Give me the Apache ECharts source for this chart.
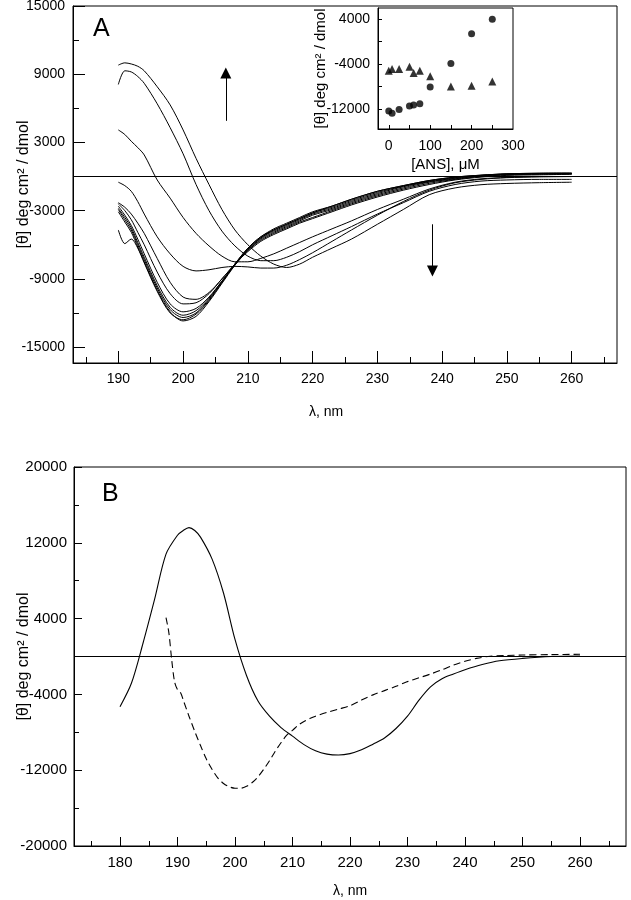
<!DOCTYPE html>
<html>
<head>
<meta charset="utf-8">
<script src="https://cdn.jsdelivr.net/npm/echarts@6.0.0/dist/echarts.min.js"></script>
<style>
  html, body { margin: 0; padding: 0; background: #fff; }
  #chart { width: 631px; height: 900px; }
</style>
</head>
<body>
<div id="chart"></div>
<script>
// panel A: CD spectra at increasing [ANS]
const lamA = [190, 191, 192, 193, 194, 196, 198, 200, 202, 204, 206, 208, 210, 212, 214, 216, 218, 220, 223, 226, 230, 234, 238, 242, 246, 250, 255, 260];
const cdA250 = [9800, 10000, 9900, 9700, 9300, 7900, 6300, 4100, 1600, -700, -2900, -4700, -6000, -7000, -7700, -8000, -7700, -7100, -6300, -5500, -4200, -2900, -1600, -1000, -720, -610, -540, -500];
const cdA200 = [8100, 9300, 9200, 8800, 8200, 6400, 4300, 2000, -700, -3000, -4800, -6100, -7000, -7400, -7400, -7100, -6600, -6000, -5200, -4400, -3300, -2300, -1300, -700, -400, -300, -250, -250];
const cdA150 = [4100, 3700, 3100, 2550, 1900, -300, -1900, -3600, -5000, -6100, -7000, -7500, -7500, -7200, -6800, -6300, -5800, -5300, -4600, -3900, -2900, -2000, -1100, -500, -200, -80, 0, 0];
const cdA100 = [-500, -800, -1300, -2200, -3300, -5300, -6800, -7900, -8300, -8200, -8000, -7900, -7950, -8050, -8050, -7800, -7300, -6700, -5700, -4700, -3400, -2200, -1200, -550, -250, -100, -30, 0];
const cdA75 = [-2300, -2700, -3300, -4100, -5000, -7200, -9300, -10600, -10800, -10200, -9000, -7700, -6600, -5700, -5100, -4600, -4100, -3700, -3100, -2500, -1800, -1200, -700, -300, -50, 100, 150, 200];
const cdA60 = [-2400, -3000, -3800, -4900, -6000, -8400, -10300, -11200, -11100, -10300, -9000, -7700, -6500, -5600, -5000, -4500, -4000, -3600, -3000, -2400, -1700, -1100, -600, -250, 0, 150, 200, 220];
const cdA50 = [-2600, -3400, -4300, -5500, -6800, -9300, -11200, -11900, -11600, -10600, -9200, -7800, -6500, -5500, -4900, -4400, -3900, -3400, -2900, -2300, -1600, -1000, -500, -200, 50, 180, 230, 250];
const cdA25 = [-2800, -3600, -4500, -5800, -7100, -9600, -11500, -12200, -11800, -10700, -9200, -7700, -6400, -5400, -4800, -4300, -3800, -3300, -2800, -2200, -1500, -900, -450, -150, 80, 200, 250, 260];
const cdA10 = [-2900, -3800, -4700, -6000, -7300, -9800, -11700, -12400, -12000, -10800, -9300, -7700, -6300, -5300, -4700, -4200, -3700, -3200, -2700, -2100, -1400, -850, -400, -100, 100, 220, 270, 280];
const cdA5 = [-3100, -4000, -4900, -6200, -7500, -10000, -11900, -12700, -12300, -11000, -9400, -7800, -6400, -5400, -4700, -4200, -3700, -3200, -2600, -2000, -1300, -800, -350, -50, 120, 240, 290, 300];
const cdA0 = [-4700, -5900, -5500, -6300, -7600, -10100, -12000, -12600, -12100, -10900, -9300, -7700, -6300, -5300, -4600, -4100, -3600, -3100, -2600, -2000, -1300, -800, -350, -50, 120, 240, 290, 300];
const curvesA = [cdA250, cdA200, cdA150, cdA100, cdA75, cdA60, cdA50, cdA25, cdA10, cdA5, cdA0];

// inset: [θ] vs [ANS]
const ansConc = [0, 8, 25, 50, 60, 75, 100, 150, 200, 250];
const thetaCircle = [-12400, -12800, -12100, -11500, -11300, -11100, -8100, -3900, 1400, 4000];
const thetaTriangle = [-5200, -4900, -4900, -4500, -5600, -5200, -6200, -8000, -7900, -7100];

// panel B
const lamBSolid = [180, 182, 184, 186, 188, 190, 191, 192, 193, 194, 196, 198, 200, 202, 204, 206, 208, 210, 212, 214, 216, 218, 220, 222, 224, 226, 228, 230, 232, 234, 236, 238, 240, 243, 246, 250, 255, 260];
const cdBSolid = [-5300, -2800, 1400, 6000, 10800, 12800, 13300, 13600, 13300, 12600, 10300, 6700, 1800, -2000, -4700, -6300, -7500, -8400, -9300, -9950, -10300, -10400, -10250, -9850, -9250, -8600, -7600, -6300, -4600, -3200, -2350, -1850, -1400, -850, -450, -200, 0, 50];
const lamBDash = [188, 188.5, 189, 189.5, 190, 190.6, 191, 192, 193, 194, 195, 196, 197, 198, 199, 200, 201, 202, 203, 204, 205, 206, 207, 208, 209, 210, 211, 212, 213, 214, 216, 218, 220, 222, 224, 226, 228, 230, 232, 234, 236, 238, 240, 242, 244, 247, 250, 255, 260];
const cdBDash = [4100, 2500, -400, -2700, -3500, -3900, -4600, -6300, -7900, -9400, -10800, -11900, -12800, -13400, -13750, -13900, -13900, -13700, -13300, -12700, -11900, -11000, -10000, -9100, -8300, -7800, -7250, -6850, -6550, -6300, -5900, -5550, -5200, -4600, -4050, -3600, -3150, -2650, -2250, -1850, -1400, -900, -500, -200, 0, 100, 160, 200, 230];

// tick labels
const lamTicksA = [190, 200, 210, 220, 230, 240, 250, 260];
const lamMinorA = [185, 195, 205, 215, 225, 235, 245, 255, 265];
const yLabelsA = [15000, 9000, 3000, -3000, -9000, -15000];
const yMinorA = [12000, 6000, 0, -6000, -12000];
const ansTicks = [0, 100, 200, 300];
const ansMinor = [0, 50, 100, 150, 200, 250];
const insetLabels = [4000, -4000, -12000];
const insetTicks = [4000, 0, -4000, -8000, -12000];
const lamTicksB = [180, 190, 200, 210, 220, 230, 240, 250, 260];
const lamMinorB = [175, 185, 195, 205, 215, 225, 235, 245, 255, 265];
const yLabelsB = [20000, 12000, 4000, -4000, -12000, -20000];
const yMinorB = [16000, 8000, 0, -8000, -16000];

const FONT = 'Liberation Sans';
const black = '#000';

function pair(xs, ys) {
  return xs.map((x, i) => [x, ys[i]]);
}

function axis(o) {
  // one axis: o.labels -> labelled ticks, o.ticks -> tick positions
  return {
    type: 'value',
    gridIndex: o.grid,
    position: o.pos,
    min: o.min,
    max: o.max,
    name: o.name || '',
    nameLocation: 'middle',
    nameGap: o.nameGap || 0,
    nameRotate: o.nameRotate,
    nameMoveOverlap: false,
    nameTextStyle: Object.assign({ color: black, fontFamily: FONT, fontSize: o.nameSize || 14 }, o.nameStyle || {}),
    axisLine: { show: o.line !== false, onZero: false, lineStyle: { color: black, width: 1 } },
    axisTick: { show: true, inside: true, length: o.tickLen, customValues: o.ticks, lineStyle: { color: black, width: 1 } },
    axisLabel: o.labels
      ? { show: true, customValues: o.labels, formatter: (v) => String(v), color: black, fontFamily: FONT,
          fontSize: o.fontSize || 14, margin: o.margin || 8 }
      : { show: false },
    splitLine: { show: false },
    minorTick: { show: false },
  };
}

const chart = echarts.init(document.getElementById('chart'), null, { renderer: 'canvas' });

const seriesA = curvesA.map((c) => ({
  type: 'line',
  xAxisIndex: 0,
  yAxisIndex: 0,
  data: pair(lamA, c),
  showSymbol: false,
  smooth: 0.3,
  silent: true,
  lineStyle: { color: black, width: 1 },
}));
// zero line and the two arrows
seriesA[0].markLine = {
  silent: true,
  symbol: ['none', 'none'],
  label: { show: false },
  lineStyle: { color: black, width: 1, type: 'solid' },
  data: [
    { yAxis: 0 },
    [{ coord: [206.6, 4900] }, { coord: [206.6, 9100], symbol: 'triangle', symbolSize: 11 }],
    [{ coord: [238.5, -4200] }, { coord: [238.5, -8300], symbol: 'triangle', symbolSize: 11 }],
  ],
};

const gridBase = { show: true, borderColor: black, borderWidth: 1, containLabel: false, outerBoundsMode: 'none' };

const option = {
  animation: false,
  backgroundColor: '#fff',
  grid: [
    Object.assign({ left: 73, top: 6, width: 544, height: 357 }, gridBase),
    Object.assign({ left: 378, top: 8, width: 135, height: 121 }, gridBase),
    Object.assign({ left: 74, top: 467, width: 552, height: 379 }, gridBase),
  ],
  xAxis: [
    axis({ grid: 0, pos: 'bottom', min: 183, max: 267, labels: lamTicksA, ticks: lamTicksA, tickLen: 12, margin: 9,
           name: 'λ, nm', nameGap: 42, nameStyle: { padding: [0, 38, 0, 0] } }),
    axis({ grid: 0, pos: 'bottom', min: 183, max: 267, ticks: lamMinorA, tickLen: 6, line: false }),
    axis({ grid: 1, pos: 'bottom', min: -26, max: 300, labels: ansTicks, ticks: ansMinor, tickLen: 4, margin: 10,
           name: '[ANS], μM', nameGap: 28, nameSize: 15 }),
    axis({ grid: 2, pos: 'bottom', min: 172, max: 268, labels: lamTicksB, ticks: lamTicksB, tickLen: 9, margin: 9, fontSize: 15,
           name: 'λ, nm', nameGap: 38 }),
    axis({ grid: 2, pos: 'bottom', min: 172, max: 268, ticks: lamMinorB, tickLen: 5, line: false }),
  ],
  yAxis: [
    axis({ grid: 0, pos: 'left', min: -16400, max: 15000, labels: yLabelsA, ticks: yLabelsA, tickLen: 12, margin: 8,
           name: '[θ] deg cm² / dmol', nameGap: 41, nameRotate: 90, nameSize: 16 }),
    axis({ grid: 0, pos: 'left', min: -16400, max: 15000, ticks: yMinorA, tickLen: 6, line: false }),
    axis({ grid: 1, pos: 'left', min: -15600, max: 6000, labels: insetLabels, ticks: insetTicks, tickLen: 4, margin: 8,
           name: '[θ] deg cm² / dmol', nameGap: 50, nameRotate: 90, nameSize: 15 }),
    axis({ grid: 2, pos: 'left', min: -20000, max: 20000, labels: yLabelsB, ticks: yLabelsB, tickLen: 8, margin: 7, fontSize: 15,
           name: '[θ] deg cm² / dmol', nameGap: 42, nameRotate: 90, nameSize: 16 }),
    axis({ grid: 2, pos: 'left', min: -20000, max: 20000, ticks: yMinorB, tickLen: 5, line: false }),
  ],
  graphic: [
    { type: 'text', left: 93, top: 17, style: { text: 'A', fill: black, font: '25px "Liberation Sans"' } },
    { type: 'text', left: 102, top: 482, style: { text: 'B', fill: black, font: '25px "Liberation Sans"' } },
  ],
  series: seriesA.concat([
    {
      type: 'scatter', xAxisIndex: 2, yAxisIndex: 2, silent: true,
      symbol: 'circle', symbolSize: 7, itemStyle: { color: black },
      data: pair(ansConc, thetaCircle),
    },
    {
      type: 'scatter', xAxisIndex: 2, yAxisIndex: 2, silent: true,
      symbol: 'triangle', symbolSize: 8, itemStyle: { color: black },
      data: pair(ansConc, thetaTriangle),
    },
    {
      type: 'line', xAxisIndex: 3, yAxisIndex: 3, silent: true,
      data: pair(lamBSolid, cdBSolid), showSymbol: false, smooth: 0.3,
      lineStyle: { color: black, width: 1.1 },
      markLine: {
        silent: true, symbol: ['none', 'none'], label: { show: false },
        lineStyle: { color: black, width: 1, type: 'solid' },
        data: [{ yAxis: 0 }],
      },
    },
    {
      type: 'line', xAxisIndex: 3, yAxisIndex: 3, silent: true,
      data: pair(lamBDash, cdBDash), showSymbol: false, smooth: 0.3,
      lineStyle: { color: black, width: 1.1, type: [7, 4] },
    },
  ]),
};

chart.setOption(option);
</script>
</body>
</html>
